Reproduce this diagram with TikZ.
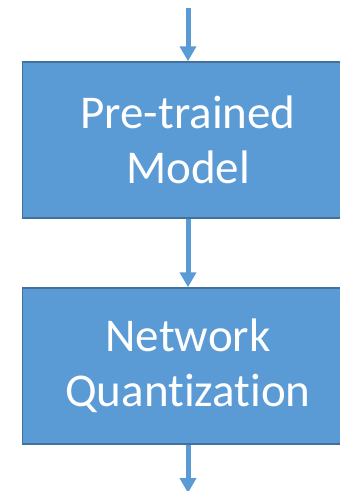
\documentclass[tikz,border=0pt]{standalone}
\usepackage{fontspec}
\setmainfont{Carlito}[Ligatures={NoCommon}]
\usetikzlibrary{arrows.meta}
\definecolor{boxfill}{HTML}{5B9BD5}
\definecolor{boxline}{HTML}{41719C}
\tikzset{
  stage/.style={draw=boxline, line width=1.5pt, fill=boxfill, text=white,
    minimum width=331pt, minimum height=156pt, inner sep=0pt, align=center,
    font=\fontsize{47}{55}\selectfont},
  flow/.style={draw=boxfill, line width=5pt,
    -{Triangle[width=16pt,length=15pt]}}
}
\begin{document}
\begin{tikzpicture}[x=1pt,y=1pt]
  \useasboundingbox (0,0) rectangle (340,-491);
  \node[stage] (pre) at (188,-140) {Pre-trained\\Model};
  \node[stage] (quant) at (188,-366) {Network\\Quantization};
  \coordinate (in) at (188,-8);
  \coordinate (out) at (188,-493);
  \draw[flow] (in) -- (pre.north);
  \draw[flow] (pre.south) -- (quant.north);
  \draw[flow] (quant.south) -- (out);
\end{tikzpicture}
\end{document}
